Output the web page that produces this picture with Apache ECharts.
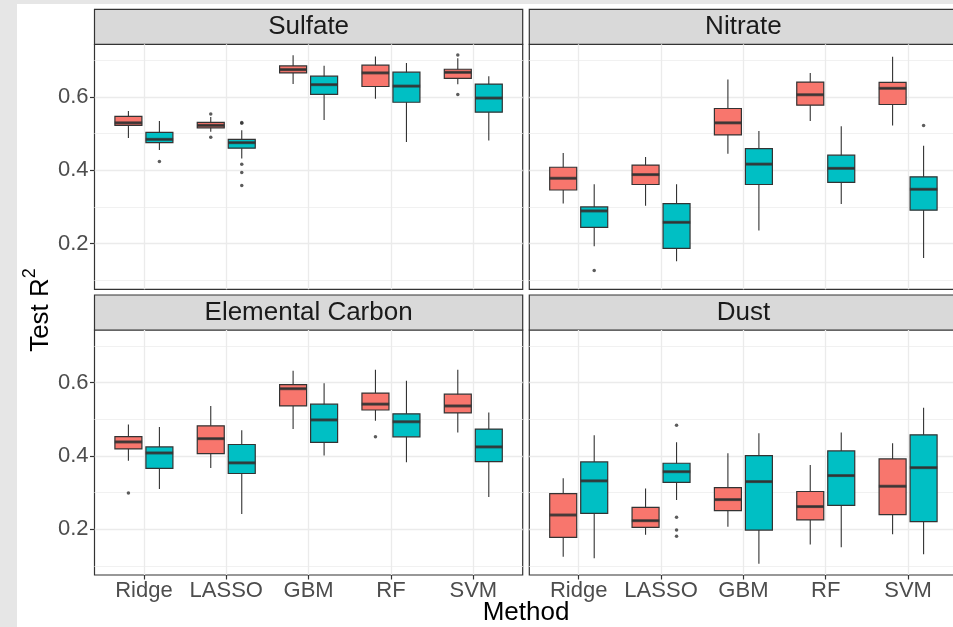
<!DOCTYPE html>
<html lang="en">
<head>
<meta charset="UTF-8">
<title>Test R2 by method</title>
<style>
  html, body { margin: 0; padding: 0; background: #e6e6e6; }
  #chart { width: 953px; height: 627px; }
</style>
</head>
<body>
<div id="chart"></div>
<script src="https://cdn.jsdelivr.net/npm/echarts@6/dist/echarts.min.js"></script>
<script>
var methods = ['Ridge', 'LASSO', 'GBM', 'RF', 'SVM'];
var panelNames = ['Sulfate', 'Nitrate', 'Elemental Carbon', 'Dust'];
var yTicks = [0.2, 0.4, 0.6];
var yMinorTicks = [0.1, 0.3, 0.5, 0.7];

// each row: [min, Q1, median, Q3, max], one row per method
var sulfateRed = [
  [0.488, 0.522, 0.529, 0.5465, 0.561],
  [0.5045, 0.5155, 0.522, 0.530, 0.545],
  [0.635, 0.665, 0.674, 0.684, 0.713],
  [0.5945, 0.628, 0.665, 0.686, 0.710],
  [0.634, 0.650, 0.6665, 0.675, 0.705]
];
var sulfateTeal = [
  [0.455, 0.475, 0.484, 0.503, 0.534],
  [0.432, 0.460, 0.475, 0.484, 0.509],
  [0.537, 0.6065, 0.633, 0.656, 0.6845],
  [0.477, 0.585, 0.629, 0.667, 0.692],
  [0.481, 0.558, 0.5965, 0.6345, 0.656]
];
var nitrateRed = [
  [0.309, 0.346, 0.378, 0.408, 0.4465],
  [0.303, 0.361, 0.388, 0.414, 0.436],
  [0.4445, 0.496, 0.529, 0.568, 0.647],
  [0.534, 0.577, 0.6055, 0.640, 0.6646],
  [0.522, 0.579, 0.623, 0.639, 0.709]
];
var nitrateTeal = [
  [0.193, 0.244, 0.289, 0.300, 0.362],
  [0.152, 0.187, 0.258, 0.309, 0.362],
  [0.236, 0.361, 0.4165, 0.459, 0.5065],
  [0.308, 0.367, 0.405, 0.441, 0.520],
  [0.161, 0.291, 0.348, 0.382, 0.4665]
];
var carbonRed = [
  [0.387, 0.419, 0.438, 0.4527, 0.4855],
  [0.367, 0.406, 0.447, 0.482, 0.536],
  [0.473, 0.536, 0.583, 0.594, 0.632],
  [0.496, 0.525, 0.541, 0.571, 0.6345],
  [0.4636, 0.517, 0.536, 0.568, 0.6345]
];
var carbonTeal = [
  [0.310, 0.366, 0.408, 0.4245, 0.479],
  [0.242, 0.352, 0.381, 0.431, 0.470],
  [0.401, 0.437, 0.498, 0.541, 0.598],
  [0.383, 0.452, 0.493, 0.5145, 0.6045],
  [0.288, 0.3845, 0.4245, 0.473, 0.518]
];
var dustRed = [
  [0.1255, 0.178, 0.239, 0.297, 0.339],
  [0.1855, 0.2055, 0.2236, 0.260, 0.311],
  [0.207, 0.251, 0.281, 0.3136, 0.407],
  [0.159, 0.2255, 0.262, 0.303, 0.3755],
  [0.1864, 0.240, 0.3173, 0.3918, 0.4345]
];
var dustTeal = [
  [0.121, 0.2436, 0.332, 0.3836, 0.456],
  [0.280, 0.328, 0.357, 0.380, 0.437],
  [0.106, 0.198, 0.330, 0.401, 0.462],
  [0.151, 0.2655, 0.3464, 0.4136, 0.4636],
  [0.132, 0.221, 0.368, 0.4573, 0.531]
];

// outliers: [method index, value]
var sulfateRedOut = [[1, 0.553], [1, 0.490], [4, 0.714], [4, 0.6065]];
var sulfateTealOut = [[0, 0.424], [1, 0.528], [1, 0.530], [1, 0.4165], [1, 0.394], [1, 0.358]];
var nitrateRedOut = [];
var nitrateTealOut = [[0, 0.127], [4, 0.522]];
var carbonRedOut = [[0, 0.299], [3, 0.452]];
var carbonTealOut = [];
var dustRedOut = [];
var dustTealOut = [[1, 0.4836], [1, 0.2327], [1, 0.198], [1, 0.181]];

var panels = [
  { red: sulfateRed, teal: sulfateTeal, redOut: sulfateRedOut, tealOut: sulfateTealOut },
  { red: nitrateRed, teal: nitrateTeal, redOut: nitrateRedOut, tealOut: nitrateTealOut },
  { red: carbonRed, teal: carbonTeal, redOut: carbonRedOut, tealOut: carbonTealOut },
  { red: dustRed, teal: dustTeal, redOut: dustRedOut, tealOut: dustTealOut }
];

var FONT = '"Liberation Sans", Arial, Helvetica, sans-serif';
var RED = '#F8766D', TEAL = '#00BFC4', LINE = '#333333', GRIDC = '#EBEBEB';
var Y_MIN = 0.0756, Y_MAX = 0.7429;
var PW = 428.2, PH = 245, STRIP_H = 35;
var BAND = PW / 5.2;     // ggplot discrete axis: 0.6 expansion each side
var DODGE = 15.5, BOX_W = 27;
var pos = [
  { L: 94.5, T: 44.3 }, { L: 529.3, T: 44.3 },
  { L: 94.5, T: 330 }, { L: 529.3, T: 330 }
];

var grids = [], xAxes = [], yAxes = [], series = [];
var graphics = [{
  type: 'rect', z: -10, silent: true,
  shape: { x: 17, y: 4, width: 936, height: 623 },
  style: { fill: '#ffffff' }
}];

function gridAt(left, top, width) {
  return { left: left, top: top, width: width, height: PH, containLabel: false, outerBoundsMode: 'none' };
}

panels.forEach(function (p, i) {
  var L = pos[i].L, T = pos[i].T;
  var isLeft = i % 2 === 0, isBottom = i >= 2;

  // frame: border + horizontal grid lines + y labels
  var g = grids.length;
  var frame = gridAt(L, T, PW);
  frame.show = true; frame.borderColor = LINE; frame.borderWidth = 1.2; frame.backgroundColor = 'transparent';
  grids.push(frame);
  xAxes.push({ gridIndex: g, type: 'value', show: false, min: 0, max: 1 });
  yAxes.push({
    gridIndex: g, type: 'value', min: Y_MIN, max: Y_MAX,
    axisLine: { show: false },
    axisTick: { show: isLeft, length: 4.5, customValues: yTicks, lineStyle: { color: LINE, width: 1.2 } },
    axisLabel: {
      show: isLeft, customValues: yTicks, margin: 6, fontSize: 22, color: '#4D4D4D', fontFamily: FONT,
      formatter: function (v) { return v.toFixed(1); }
    },
    splitLine: { show: true, lineStyle: { color: GRIDC, width: 1.3 } }
  });
  yAxes.push({
    gridIndex: g, type: 'value', position: 'left', min: Y_MIN, max: Y_MAX,
    axisLine: { show: false },
    axisTick: { show: false, customValues: yMinorTicks },
    axisLabel: { show: false, customValues: yMinorTicks },
    splitLine: { show: true, lineStyle: { color: '#F1F1F1', width: 1 } }
  });

  // category axis: vertical grid lines, ticks, labels
  g = grids.length;
  grids.push(gridAt(L + 0.6 * BAND, T, 4 * BAND));
  xAxes.push({
    gridIndex: g, type: 'category', data: methods, boundaryGap: false,
    axisLine: { show: false },
    axisTick: { show: isBottom, length: 4.5, interval: 0, lineStyle: { color: LINE, width: 1.2 } },
    axisLabel: { show: isBottom, interval: 0, margin: 5, fontSize: 22, color: '#4D4D4D', fontFamily: FONT },
    splitLine: { show: true, interval: 0, lineStyle: { color: GRIDC, width: 1.3 } }
  });
  yAxes.push({ gridIndex: g, type: 'value', show: false, min: Y_MIN, max: Y_MAX });

  // two dodged groups, each in its own shifted grid
  [[p.red, p.redOut, -DODGE, RED], [p.teal, p.tealOut, DODGE, TEAL]].forEach(function (grp) {
    var stats = grp[0], outs = grp[1], shift = grp[2], fill = grp[3];
    var gi = grids.length;
    grids.push(gridAt(L + 0.1 * BAND + shift, T, 5 * BAND));
    var xw = xAxes.length;
    xAxes.push({ gridIndex: gi, type: 'category', data: methods, show: false });
    xAxes.push({ gridIndex: gi, type: 'category', data: methods, show: false });
    var yi = yAxes.length;
    yAxes.push({ gridIndex: gi, type: 'value', show: false, min: Y_MIN, max: Y_MAX });

    // whiskers (zero-width box, no caps)
    series.push({
      type: 'boxplot', xAxisIndex: xw, yAxisIndex: yi, boxWidth: [0, 0], silent: true,
      data: stats,
      itemStyle: { color: fill, borderColor: LINE, borderWidth: 1.1 }
    });
    // boxes
    series.push({
      type: 'boxplot', xAxisIndex: xw + 1, yAxisIndex: yi, boxWidth: [BOX_W, BOX_W], silent: true,
      data: stats.map(function (s) { return [s[1], s[1], s[2], s[3], s[3]]; }),
      itemStyle: { color: fill, borderColor: LINE, borderWidth: 1.2 }
    });
    // thick median
    series.push({
      type: 'scatter', xAxisIndex: xw + 1, yAxisIndex: yi, silent: true,
      symbol: 'rect', symbolSize: [BOX_W + 0.5, 3],
      data: stats.map(function (s, j) { return [j, s[2]]; }),
      itemStyle: { color: LINE }
    });
    // outliers
    series.push({
      type: 'scatter', xAxisIndex: xw + 1, yAxisIndex: yi, silent: true,
      symbol: 'circle', symbolSize: 3.5,
      data: outs,
      itemStyle: { color: LINE }
    });
  });

  // facet strip
  graphics.push({
    type: 'rect', silent: true,
    shape: { x: L, y: T - STRIP_H, width: PW, height: STRIP_H },
    style: { fill: '#D9D9D9', stroke: LINE, lineWidth: 1.2 }
  });
  graphics.push({
    type: 'text', silent: true, x: L + PW / 2, y: T - STRIP_H / 2,
    style: { text: panelNames[i], fontSize: 26, fontFamily: FONT, fill: '#1A1A1A', align: 'center', verticalAlign: 'middle' }
  });
});

graphics.push({
  type: 'text', silent: true, x: 526, y: 613,
  style: { text: 'Method', fontSize: 26, fontFamily: FONT, fill: '#000000', align: 'center', verticalAlign: 'middle' }
});
graphics.push({
  type: 'text', silent: true, x: 40.5, y: 310, rotation: Math.PI / 2,
  style: {
    text: '{a|Test R}{b|2}', fontFamily: FONT, fill: '#000000', align: 'center', verticalAlign: 'middle',
    rich: {
      a: { fontSize: 26, lineHeight: 38, verticalAlign: 'middle', fontFamily: FONT, fill: '#000000' },
      b: { fontSize: 18, lineHeight: 18, verticalAlign: 'top', fontFamily: FONT, fill: '#000000' }
    }
  }
});

var myChart = echarts.init(document.getElementById('chart'), null, { renderer: 'canvas' });
myChart.setOption({
  backgroundColor: '#E6E6E6',
  animation: false,
  grid: grids,
  xAxis: xAxes,
  yAxis: yAxes,
  series: series,
  graphic: { elements: graphics }
});
</script>
</body>
</html>
